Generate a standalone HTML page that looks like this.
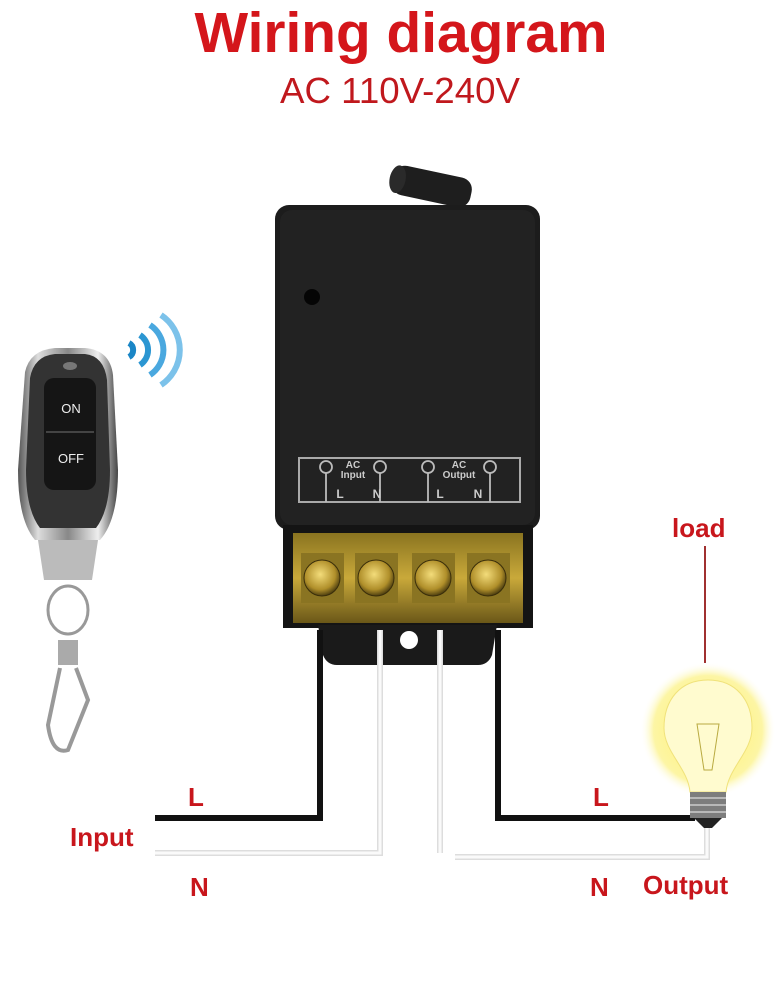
<!DOCTYPE html>
<html><head><meta charset="utf-8"><style>
html,body{margin:0;padding:0;background:#fff;}
svg{display:block}
text{font-family:"Liberation Sans",sans-serif;}
</style></head><body>
<svg width="778" height="1000" viewBox="0 0 778 1000" xmlns="http://www.w3.org/2000/svg">
<defs>
<radialGradient id="glow" cx="50%" cy="50%" r="50%">
<stop offset="0.55" stop-color="#fff59a"/><stop offset="0.8" stop-color="#fbef6a" stop-opacity="0.6"/><stop offset="1" stop-color="#fff" stop-opacity="0"/></radialGradient>
<linearGradient id="gold" x1="0" y1="0" x2="0" y2="1"><stop offset="0" stop-color="#8a7420"/><stop offset="0.5" stop-color="#c9a93a"/><stop offset="1" stop-color="#6a5718"/></linearGradient>
<radialGradient id="screw" cx="45%" cy="40%" r="60%"><stop offset="0" stop-color="#f3dc7a"/><stop offset="0.7" stop-color="#b08f2a"/><stop offset="1" stop-color="#4e3f10"/></radialGradient>
<linearGradient id="chrome" x1="0" y1="0" x2="1" y2="0"><stop offset="0" stop-color="#555"/><stop offset="0.2" stop-color="#ddd"/><stop offset="0.5" stop-color="#888"/><stop offset="0.8" stop-color="#eee"/><stop offset="1" stop-color="#444"/></linearGradient>
</defs>
<text x="401" y="52" font-size="57" font-weight="bold" fill="#d4161b" text-anchor="middle" textLength="413" lengthAdjust="spacingAndGlyphs">Wiring diagram</text>
<text x="400" y="103" font-size="36" fill="#c0181d" text-anchor="middle" textLength="240" lengthAdjust="spacingAndGlyphs">AC 110V-240V</text>

<!-- antenna -->
<g transform="rotate(12 425 185)"><rect x="392" y="170" width="80" height="30" rx="12" fill="#1e1e1e"/><ellipse cx="397" cy="185" rx="8" ry="14" fill="#2a2a2a"/></g>
<!-- relay body -->
<rect x="275" y="205" width="265" height="325" rx="14" fill="#1c1c1c"/>
<rect x="280" y="210" width="255" height="315" rx="12" fill="#222"/>
<circle cx="312" cy="297" r="8" fill="#050505"/>
<rect x="299" y="458" width="221" height="44" fill="none" stroke="#aaa" stroke-width="2"/>
<g stroke="#bbb" stroke-width="1.8" fill="none">
<circle cx="326" cy="467" r="6"/><circle cx="380" cy="467" r="6"/><circle cx="428" cy="467" r="6"/><circle cx="490" cy="467" r="6"/>
<line x1="326" y1="473" x2="326" y2="502"/><line x1="380" y1="473" x2="380" y2="502"/><line x1="428" y1="473" x2="428" y2="502"/><line x1="490" y1="473" x2="490" y2="502"/>
</g>
<g fill="#ccc" font-size="10" font-weight="bold" text-anchor="middle">
<text x="353" y="468">AC</text><text x="353" y="478">Input</text>
<text x="459" y="468">AC</text><text x="459" y="478">Output</text>
<text x="340" y="498" font-size="12">L</text><text x="377" y="498" font-size="12">N</text>
<text x="440" y="498" font-size="12">L</text><text x="478" y="498" font-size="12">N</text>
</g>
<!-- terminal block -->
<rect x="283" y="525" width="250" height="103" fill="#141414"/>
<rect x="293" y="533" width="230" height="90" fill="url(#gold)"/>
<g>
<rect x="301" y="553" width="43" height="50" fill="#8a7422"/><circle cx="322" cy="578" r="18" fill="url(#screw)" stroke="#3a2e0a"/>
<rect x="355" y="553" width="43" height="50" fill="#8a7422"/><circle cx="376" cy="578" r="18" fill="url(#screw)" stroke="#3a2e0a"/>
<rect x="412" y="553" width="43" height="50" fill="#8a7422"/><circle cx="433" cy="578" r="18" fill="url(#screw)" stroke="#3a2e0a"/>
<rect x="467" y="553" width="43" height="50" fill="#8a7422"/><circle cx="488" cy="578" r="18" fill="url(#screw)" stroke="#3a2e0a"/>
</g>
<!-- bottom tab -->
<path d="M318 625 H497 L492 655 Q488 665 478 665 H337 Q327 665 323 655 Z" fill="#1a1a1a"/>
<circle cx="409" cy="640" r="9" fill="#fff"/>

<!-- wires -->
<g fill="none" stroke-linejoin="miter">
<polyline points="320,630 320,818 155,818" stroke="#111" stroke-width="6"/>
<polyline points="498,630 498,818 695,818" stroke="#111" stroke-width="6"/>
<polyline points="380,630 380,853 155,853" stroke="#ddd" stroke-width="6"/>
<polyline points="380,630 380,853 155,853" stroke="#fafafa" stroke-width="3"/>
<line x1="440" y1="630" x2="440" y2="853" stroke="#ddd" stroke-width="6"/>
<line x1="440" y1="630" x2="440" y2="853" stroke="#fafafa" stroke-width="3"/>
<polyline points="455,857 707,857 707,825" stroke="#ddd" stroke-width="6"/>
<polyline points="455,857 707,857 707,825" stroke="#fafafa" stroke-width="3"/>
</g>
<!-- load -->
<line x1="705" y1="546" x2="705" y2="663" stroke="#a03030" stroke-width="2"/>
<circle cx="708" cy="730" r="68" fill="url(#glow)"/>
<path d="M708 680 C680 680 664 700 664 728 C664 752 688 768 690 792 H726 C728 768 752 752 752 728 C752 700 736 680 708 680 Z" fill="#fffbcf" stroke="#f0e27a"/>
<path d="M697 724 L719 724 L712 770 L704 770 Z" fill="none" stroke="#b9aa40" stroke-width="1"/>
<rect x="690" y="792" width="36" height="26" fill="#7d7d7d"/>
<g stroke="#ccc" stroke-width="1.5"><line x1="690" y1="798" x2="726" y2="798"/><line x1="690" y1="805" x2="726" y2="805"/><line x1="690" y1="812" x2="726" y2="812"/></g>
<path d="M694 818 H722 L712 828 H704 Z" fill="#222"/>

<!-- remote -->
<g fill="none" stroke-linecap="butt">
<path d="M133 343 a8 8 0 0 1 0 14" stroke="#1a86c6" stroke-width="6" transform="translate(-4 0)"/>
<path d="M140 335 a18 18 0 0 1 0 30" stroke="#2b96d2" stroke-width="6"/>
<path d="M150 325 a30 30 0 0 1 0 50" stroke="#4aa8df" stroke-width="6"/>
<path d="M161 315 a42 42 0 0 1 0 70" stroke="#7cc2ea" stroke-width="6"/>
</g>
<path d="M25 372 Q30 350 55 348 H85 Q110 350 113 375 L118 470 Q118 520 100 540 H35 Q18 520 18 470 Z" fill="url(#chrome)"/>
<path d="M30 378 Q34 356 55 354 H85 Q104 356 107 380 L110 470 Q110 510 96 528 H40 Q26 510 26 470 Z" fill="#333"/>
<ellipse cx="70" cy="366" rx="7" ry="4" fill="#777"/>
<rect x="44" y="378" width="52" height="112" rx="10" fill="#151515"/>
<line x1="46" y1="432" x2="94" y2="432" stroke="#444" stroke-width="2"/>
<text x="71" y="413" font-size="13" fill="#eee" text-anchor="middle">ON</text>
<text x="71" y="463" font-size="13" fill="#eee" text-anchor="middle">OFF</text>
<path d="M38 540 H98 L92 580 H44 Z" fill="#bbb"/>
<ellipse cx="68" cy="610" rx="20" ry="24" fill="none" stroke="#999" stroke-width="3"/>
<path d="M58 640 h20 v25 h-20 z" fill="#aaa"/>
<path d="M60 668 L48 725 Q52 755 68 750 L88 700 L76 668" fill="none" stroke="#999" stroke-width="4"/>

<!-- labels -->
<g fill="#c8161c" font-size="26" font-weight="bold">
<text x="188" y="806">L</text>
<text x="70" y="846">Input</text>
<text x="190" y="896">N</text>
<text x="593" y="806">L</text>
<text x="590" y="896">N</text>
<text x="643" y="894">Output</text>
<text x="672" y="537">load</text>
</g>
</svg>
</body></html>
